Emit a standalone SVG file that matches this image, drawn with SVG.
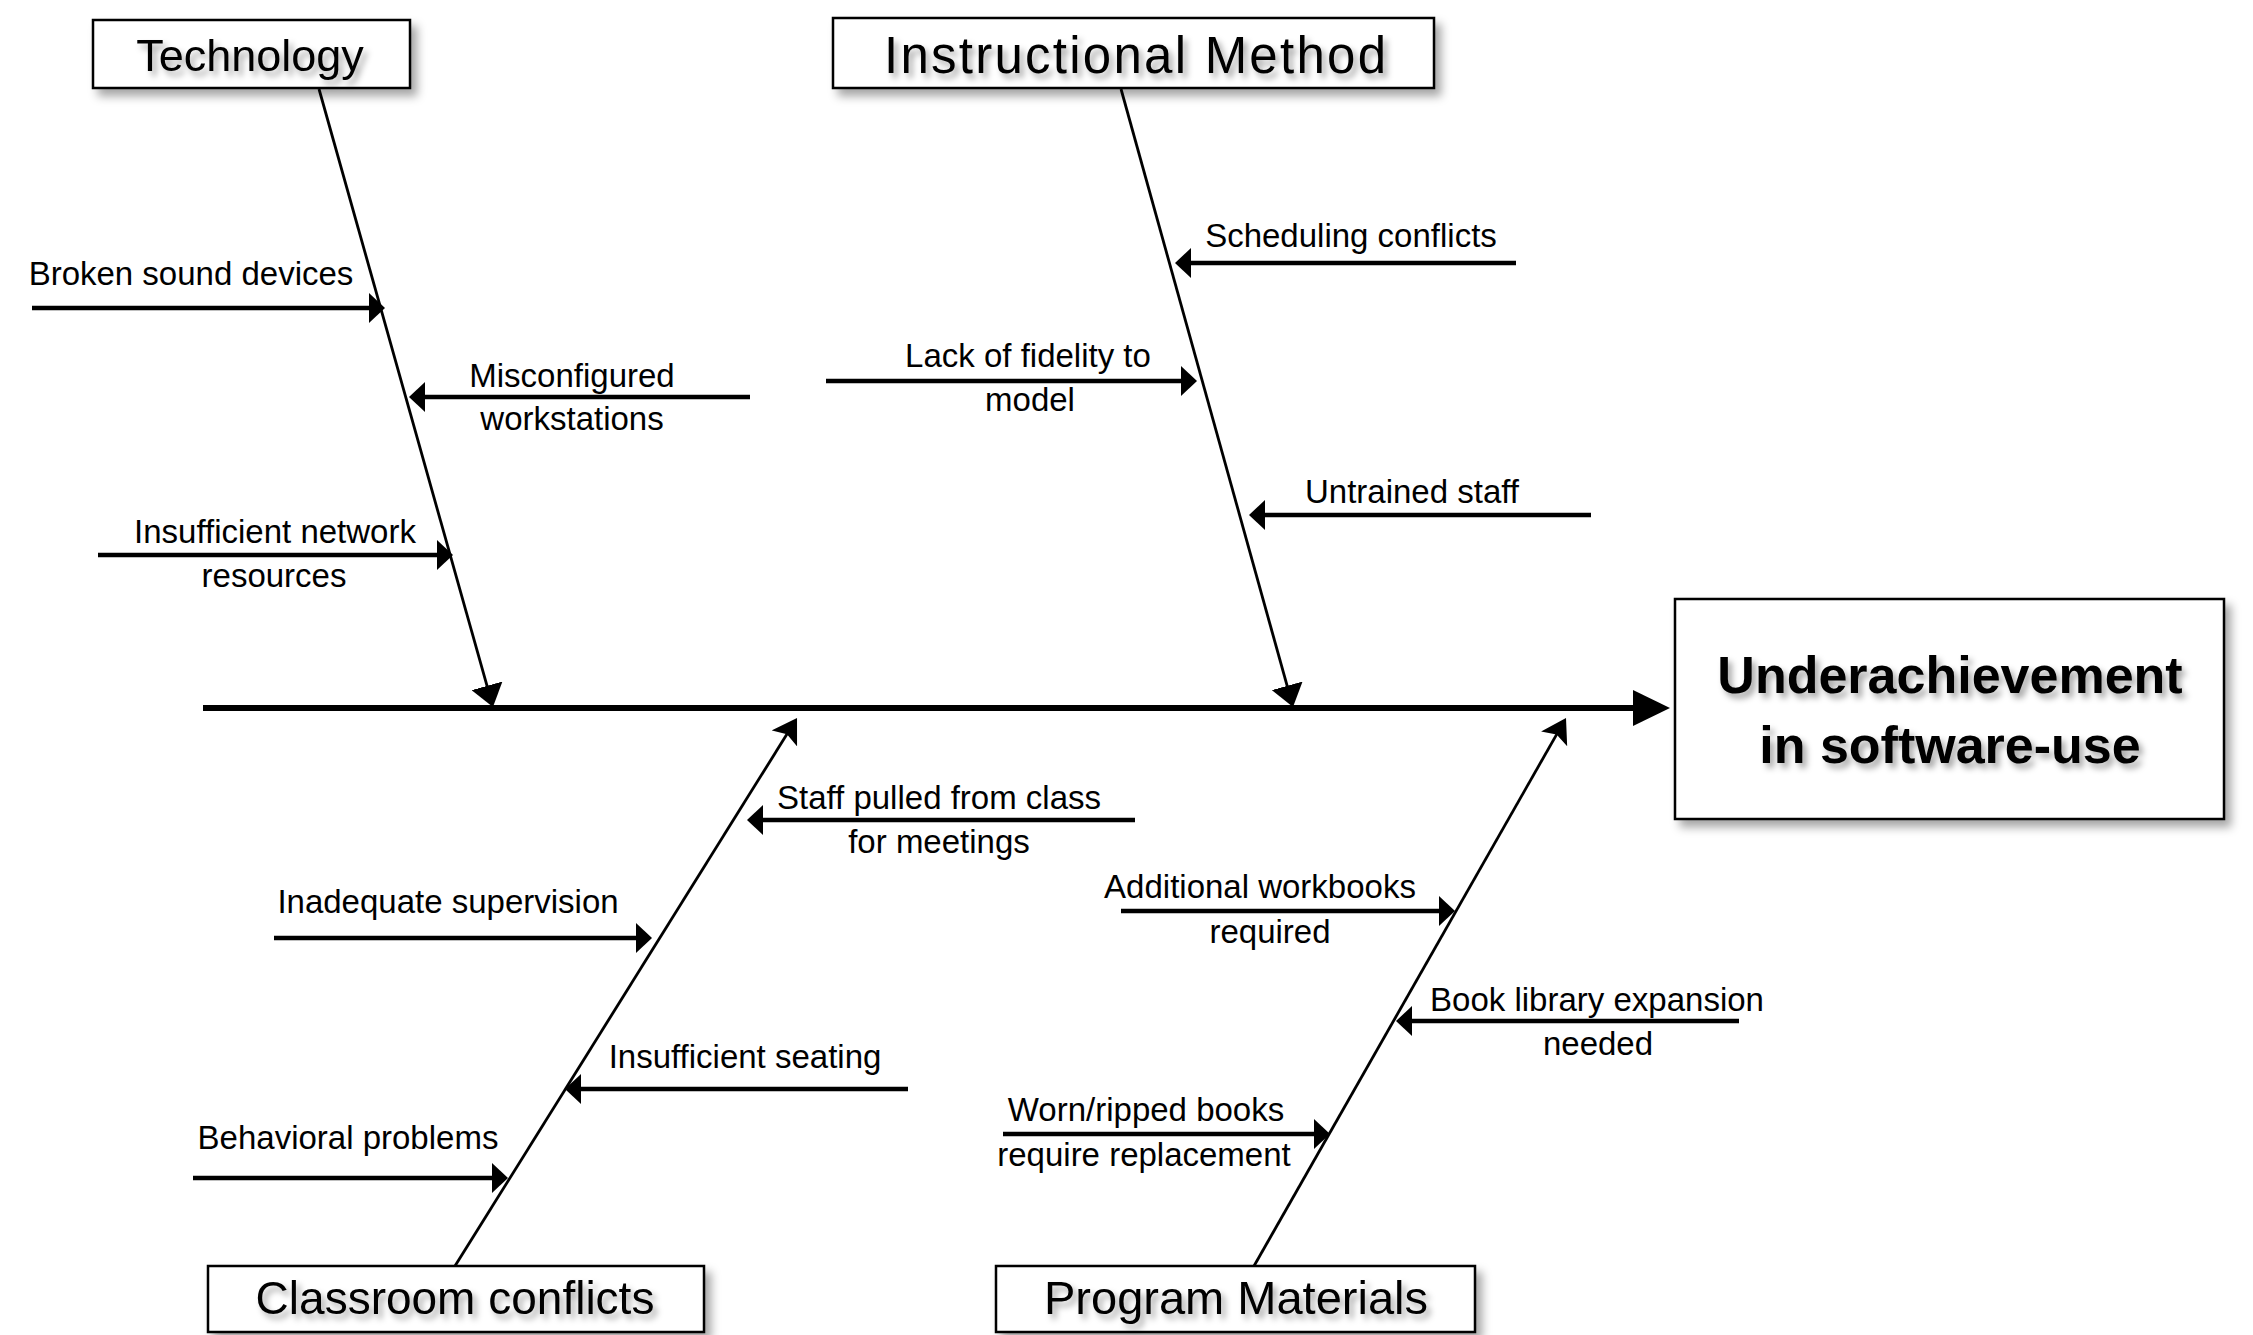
<svg xmlns="http://www.w3.org/2000/svg" width="2253" height="1335" viewBox="0 0 2253 1335">
<style>
  .box { fill: #ffffff; stroke: #000000; stroke-width: 2.5; }
  .title { font-family: "Liberation Sans", Arial, sans-serif; fill: #000000; text-anchor: middle; }
  .effect { font-family: "Liberation Sans", Arial, sans-serif; font-weight: bold; font-size: 52px; fill: #000000; text-anchor: middle; }
  .label { font-family: "Liberation Sans", Arial, sans-serif; font-size: 33px; fill: #000000; text-anchor: middle; }
  .spine { stroke: #000000; stroke-width: 6; fill: none; }
  .bone { stroke: #000000; stroke-width: 2.8; fill: none; }
  .sub { stroke: #000000; stroke-width: 4.5; fill: none; }
</style>
<defs>
  <filter id="boxShadow" x="-10%" y="-20%" width="130%" height="160%">
    <feGaussianBlur in="SourceAlpha" stdDeviation="5"/>
    <feOffset dx="6" dy="7" result="b"/>
    <feFlood flood-color="#000000" flood-opacity="0.35"/>
    <feComposite in2="b" operator="in"/>
    <feMerge><feMergeNode/><feMergeNode in="SourceGraphic"/></feMerge>
  </filter>
  <filter id="textShadow" x="-10%" y="-30%" width="130%" height="180%">
    <feGaussianBlur in="SourceAlpha" stdDeviation="3"/>
    <feOffset dx="4" dy="5" result="b"/>
    <feFlood flood-color="#000000" flood-opacity="0.35"/>
    <feComposite in2="b" operator="in"/>
    <feMerge><feMergeNode/><feMergeNode in="SourceGraphic"/></feMerge>
  </filter>
  <marker id="mainHead" markerUnits="userSpaceOnUse" viewBox="0 0 37 36" markerWidth="37" markerHeight="36" refX="2" refY="18" orient="auto">
    <path d="M0,0 L37,18 L0,36 Z" fill="#000000"/>
  </marker>
  <marker id="boneHead" markerUnits="userSpaceOnUse" viewBox="0 0 22 32" markerWidth="22" markerHeight="32" refX="4" refY="16" orient="auto">
    <path d="M0,0 L22,16 L0,32 Z" fill="#000000"/>
  </marker>
  <marker id="boneHeadUp" markerUnits="userSpaceOnUse" viewBox="0 0 24 30" markerWidth="24" markerHeight="30" refX="6" refY="15" orient="auto">
    <path d="M0,0 L24,15 L0,30 L5,15 Z" fill="#000000"/>
  </marker>
  <marker id="subHead" markerUnits="userSpaceOnUse" viewBox="0 0 16 30" markerWidth="16" markerHeight="30" refX="2" refY="15" orient="auto">
    <path d="M0,0 L16,15 L0,30 Z" fill="#000000"/>
  </marker>
</defs>
<rect x="0" y="0" width="2253" height="1335" fill="#ffffff"/>

<g id="connectors">
  <line class="spine" x1="203" y1="708" x2="1635" y2="708" marker-end="url(#mainHead)"/>
  <line class="bone" x1="319" y1="89" x2="488.1" y2="689.7" marker-end="url(#boneHead)"/>
  <line class="bone" x1="1121" y1="89" x2="1288.2" y2="689.7" marker-end="url(#boneHead)"/>
  <line class="bone" x1="455" y1="1266" x2="787.5" y2="733.3" marker-end="url(#boneHeadUp)"/>
  <line class="bone" x1="1254" y1="1266" x2="1557.1" y2="733.6" marker-end="url(#boneHeadUp)"/>
  <line class="sub" x1="32" y1="308" x2="371" y2="308" marker-end="url(#subHead)"/>
  <line class="sub" x1="750" y1="397" x2="423" y2="397" marker-end="url(#subHead)"/>
  <line class="sub" x1="98" y1="555" x2="439" y2="555" marker-end="url(#subHead)"/>
  <line class="sub" x1="1516" y1="263" x2="1189" y2="263" marker-end="url(#subHead)"/>
  <line class="sub" x1="826" y1="381" x2="1183" y2="381" marker-end="url(#subHead)"/>
  <line class="sub" x1="1591" y1="515" x2="1263" y2="515" marker-end="url(#subHead)"/>
  <line class="sub" x1="1135" y1="820" x2="761" y2="820" marker-end="url(#subHead)"/>
  <line class="sub" x1="274" y1="938" x2="638" y2="938" marker-end="url(#subHead)"/>
  <line class="sub" x1="908" y1="1089" x2="579" y2="1089" marker-end="url(#subHead)"/>
  <line class="sub" x1="193" y1="1178" x2="494" y2="1178" marker-end="url(#subHead)"/>
  <line class="sub" x1="1121" y1="911" x2="1441" y2="911" marker-end="url(#subHead)"/>
  <line class="sub" x1="1739" y1="1021" x2="1410" y2="1021" marker-end="url(#subHead)"/>
  <line class="sub" x1="1003" y1="1134" x2="1316" y2="1134" marker-end="url(#subHead)"/>
</g>

<g id="node-technology">
  <rect class="box" x="93" y="20" width="317" height="68" filter="url(#boxShadow)"/>
  <text class="title" x="250" y="71" font-size="45" filter="url(#textShadow)">Technology</text>
</g>
<g id="node-instructional-method">
  <rect class="box" x="833" y="18" width="601" height="70" filter="url(#boxShadow)"/>
  <text class="title" x="1135" y="73" font-size="51" textLength="502" filter="url(#textShadow)">Instructional Method</text>
</g>
<g id="node-classroom-conflicts">
  <rect class="box" x="208" y="1266" width="496" height="66" filter="url(#boxShadow)"/>
  <text class="title" x="455" y="1314" font-size="46" filter="url(#textShadow)">Classroom conflicts</text>
</g>
<g id="node-program-materials">
  <rect class="box" x="996" y="1266" width="479" height="66" filter="url(#boxShadow)"/>
  <text class="title" x="1236" y="1314" font-size="47" filter="url(#textShadow)">Program Materials</text>
</g>
<g id="node-effect">
  <rect class="box" x="1675" y="599" width="549" height="220" filter="url(#boxShadow)"/>
  <text class="effect" x="1950" y="693" filter="url(#textShadow)">Underachievement</text>
  <text class="effect" x="1950" y="763" filter="url(#textShadow)">in software-use</text>
</g>

<g id="cause-broken-sound-devices"><text class="label" x="191" y="285">Broken sound devices</text></g>
<g id="cause-misconfigured-workstations"><text class="label" x="572" y="387">Misconfigured</text><text class="label" x="572" y="430">workstations</text></g>
<g id="cause-insufficient-network"><text class="label" x="275" y="543">Insufficient network</text><text class="label" x="274" y="587">resources</text></g>
<g id="cause-scheduling-conflicts"><text class="label" x="1351" y="247">Scheduling conflicts</text></g>
<g id="cause-lack-of-fidelity"><text class="label" x="1028" y="367">Lack of fidelity to</text><text class="label" x="1030" y="411">model</text></g>
<g id="cause-untrained-staff"><text class="label" x="1412" y="503">Untrained staff</text></g>
<g id="cause-staff-pulled"><text class="label" x="939" y="809">Staff pulled from class</text><text class="label" x="939" y="853">for meetings</text></g>
<g id="cause-inadequate-supervision"><text class="label" x="448" y="913">Inadequate supervision</text></g>
<g id="cause-insufficient-seating"><text class="label" x="745" y="1068">Insufficient seating</text></g>
<g id="cause-behavioral-problems"><text class="label" x="348" y="1149">Behavioral problems</text></g>
<g id="cause-additional-workbooks"><text class="label" x="1260" y="898">Additional workbooks</text><text class="label" x="1270" y="943">required</text></g>
<g id="cause-book-library"><text class="label" x="1597" y="1011">Book library expansion</text><text class="label" x="1598" y="1055">needed</text></g>
<g id="cause-worn-books"><text class="label" x="1146" y="1121">Worn/ripped books</text><text class="label" x="1144" y="1166">require replacement</text></g>
</svg>
